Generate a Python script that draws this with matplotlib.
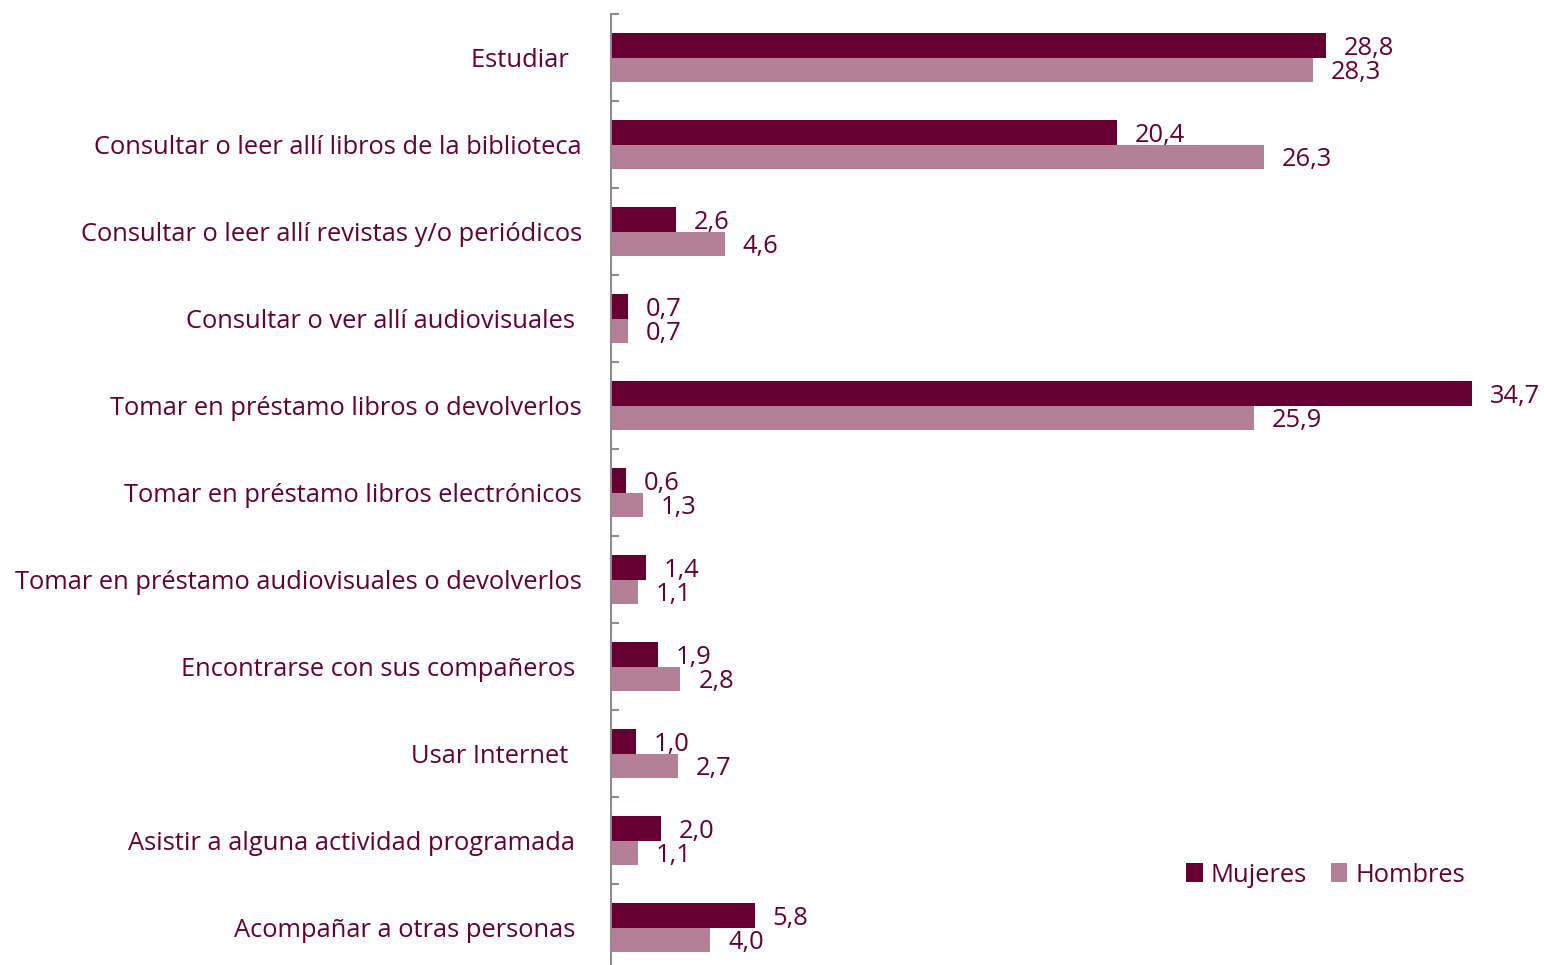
import numpy as np
import matplotlib.pyplot as plt
from matplotlib.ticker import FixedLocator

#categories top to bottom
categorias = ["Estudiar  ",
              "Consultar o leer allí libros de la biblioteca",
              "Consultar o leer allí revistas y/o periódicos",
              "Consultar o ver allí audiovisuales ",
              "Tomar en préstamo libros o devolverlos",
              "Tomar en préstamo libros electrónicos",
              "Tomar en préstamo audiovisuales o devolverlos",
              "Encontrarse con sus compañeros ",
              "Usar Internet  ",
              "Asistir a alguna actividad programada ",
              "Acompañar a otras personas "]
mujeres = [28.8, 20.4, 2.6, 0.7, 34.7, 0.6, 1.4, 1.9, 1.0, 2.0, 5.8]
hombres = [28.3, 26.3, 4.6, 0.7, 25.9, 1.3, 1.1, 2.8, 2.7, 1.1, 4.0]

c_muj = "#660033"
c_hom = "#b38097"
c_txt = "#660033"
fs = 18.4

plt.rcParams['font.family'] = ['Open Sans', 'DejaVu Sans']

fig = plt.figure(figsize=(15.44, 9.65), dpi=100)
ax = fig.add_axes([611/1544, -6/965, 1 - 611/1544, 957/965])

y = np.arange(len(categorias))
h = 0.276
ax.barh(y - h/2, mujeres, height=h, color=c_muj, label="Mujeres")
ax.barh(y + h/2, hombres, height=h, color=c_hom, label="Hombres")

#value labels, comma as decimal sep
dy = 0.03
for i in range(len(y)):
    ax.text(mujeres[i] + 0.72, y[i] - h/2 + dy, f"{mujeres[i]:.1f}".replace(".", ","),
            va="center", ha="left", color=c_txt, fontsize=fs)
    ax.text(hombres[i] + 0.72, y[i] + h/2 + dy, f"{hombres[i]:.1f}".replace(".", ","),
            va="center", ha="left", color=c_txt, fontsize=fs)

ax.set_xlim(0, 933/24.81)
ax.set_ylim(len(y) - 0.5, -0.5)

for s in ["top", "right", "bottom"]:
    ax.spines[s].set_visible(False)
ax.spines["left"].set_color("#8c8c8c")
ax.spines["left"].set_linewidth(1.5)
ax.set_xticks([])
ax.set_yticks(y)
ax.set_yticklabels(categorias, color=c_txt, fontsize=fs)
ax.tick_params(axis="y", which="major", length=0, pad=21)
ax.yaxis.set_minor_locator(FixedLocator(np.arange(-0.5, len(y), 1)))
ax.tick_params(axis="y", which="minor", direction="in", length=6, width=1.5, color="#8c8c8c")

leg = ax.legend(loc="center left", bbox_to_anchor=((1186 - 611)/933, (971 - 875)/957),
                ncol=2, frameon=False, fontsize=fs, handlelength=0.65, handleheight=0.75,
                handletextpad=0.3, columnspacing=0.95, borderaxespad=0, borderpad=0)
for t in leg.get_texts():
    t.set_color(c_txt)

fig.savefig("out.png", dpi=100)
